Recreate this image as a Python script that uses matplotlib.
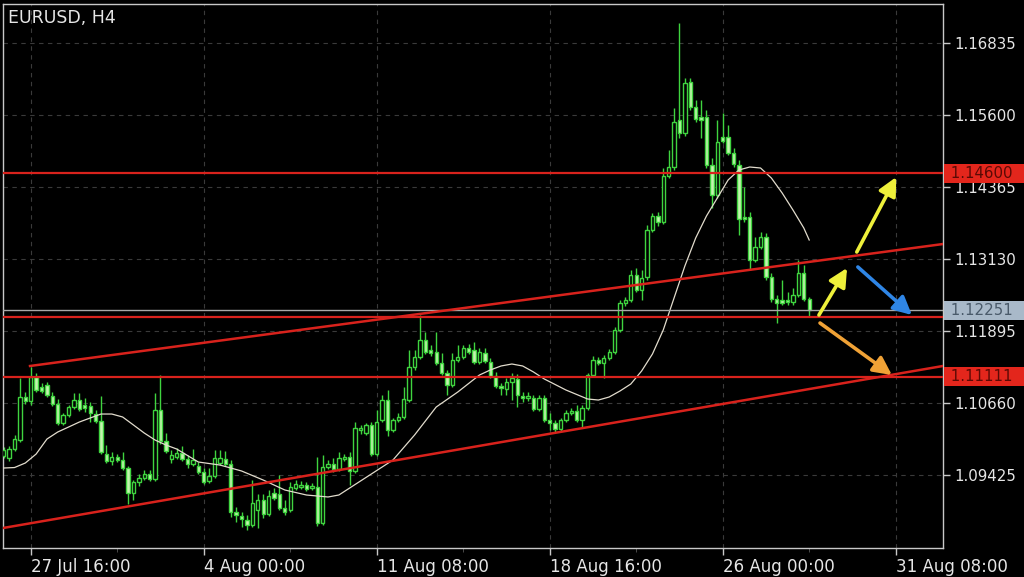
import matplotlib
matplotlib.use("Agg")
import matplotlib.pyplot as plt
import numpy as np

# EURUSD H4 candles (bar index 0..149)
opens = [
    1.09751, 1.09717, 1.09871, 1.10025, 1.10763, 1.10694, 1.11106, 1.10934, 1.10969, 1.10780,
    1.10643, 1.10317, 1.10454, 1.10591, 1.10711, 1.10626, 1.10608, 1.10471, 1.10351, 1.09785,
    1.09665, 1.09734, 1.09682, 1.09545, 1.09116, 1.09305, 1.09373, 1.09442, 1.09356, 1.10540,
    1.10008, 1.09699, 1.09734, 1.09802, 1.09699, 1.09614, 1.09579, 1.09476, 1.09322, 1.09408,
    1.09631, 1.09699, 1.09614, 1.08790, 1.08722, 1.08653, 1.08567, 1.08825, 1.08996, 1.08756,
    1.09116, 1.09099, 1.08859, 1.08825, 1.09202, 1.09219, 1.09253, 1.09202, 1.09219, 1.08602,
    1.09562, 1.09614, 1.09528, 1.09699, 1.09734, 1.09494, 1.10197, 1.10145, 1.10283, 1.09785,
    1.10368, 1.10711, 1.10197, 1.10368, 1.10420, 1.10711, 1.11277, 1.11449, 1.11741, 1.11569,
    1.11535, 1.11346, 1.11175, 1.10969, 1.11397, 1.11449, 1.11603, 1.11569, 1.11363, 1.11518,
    1.11363, 1.11123, 1.10951, 1.10900, 1.11020, 1.11072, 1.10780, 1.10746, 1.10746, 1.10557,
    1.10746, 1.10368, 1.10317, 1.10214, 1.10368, 1.10488, 1.10523, 1.10368, 1.10574, 1.11140,
    1.11397, 1.11346, 1.11432, 1.11535, 1.11912, 1.12375, 1.12427, 1.12856, 1.12598, 1.12821,
    1.13627, 1.13868, 1.13765, 1.14554, 1.14708, 1.15514, 1.15291, 1.16166, 1.15737, 1.15566,
    1.15566, 1.14742, 1.14228, 1.15223, 1.15223, 1.14948, 1.14742, 1.13850, 1.13850, 1.13113,
    1.13336, 1.13507, 1.12821, 1.12444, 1.12427, 1.12427, 1.12392, 1.12512, 1.12890, 1.12444,
]
highs = [
    1.09905, 1.09922, 1.10111, 1.11089, 1.10849, 1.11277, 1.11175, 1.11003, 1.11020, 1.10849,
    1.10729, 1.10488, 1.10626, 1.10831, 1.10831, 1.10746, 1.10677, 1.10540, 1.10780, 1.09940,
    1.09819, 1.09785, 1.09819, 1.09579, 1.09339, 1.09442, 1.09511, 1.09511, 1.10831, 1.11140,
    1.10145, 1.09854, 1.09888, 1.09922, 1.09768, 1.09871, 1.09648, 1.09545, 1.09545, 1.09854,
    1.09854, 1.09837, 1.09682, 1.08876, 1.08790, 1.08739, 1.09339, 1.09099, 1.09099, 1.09168,
    1.09202, 1.09425, 1.08996, 1.09305, 1.09339, 1.09322, 1.09305, 1.09288, 1.09734, 1.09768,
    1.09682, 1.09717, 1.09819, 1.09785, 1.09819, 1.10334, 1.10283, 1.10317, 1.10334, 1.10540,
    1.10797, 1.10883, 1.10403, 1.10488, 1.10934, 1.11569, 1.11569, 1.12169, 1.11878, 1.11655,
    1.11878, 1.11518, 1.11226, 1.11518, 1.11655, 1.11655, 1.11672, 1.11706, 1.11603, 1.11603,
    1.11432, 1.11192, 1.11003, 1.11089, 1.11175, 1.11157, 1.10849, 1.10849, 1.10797, 1.10797,
    1.10797, 1.10488, 1.10368, 1.10403, 1.10540, 1.10574, 1.10626, 1.10626, 1.11175, 1.11466,
    1.11449, 1.11483, 1.11586, 1.11964, 1.12427, 1.12478, 1.12941, 1.12976, 1.12941, 1.13713,
    1.13919, 1.13936, 1.14691, 1.15000, 1.15720, 1.17178, 1.16235, 1.16235, 1.15857, 1.15857,
    1.15686, 1.14862, 1.15514, 1.15634, 1.15428, 1.15034, 1.14828, 1.14365, 1.13936, 1.13507,
    1.13593, 1.13576, 1.12890, 1.12512, 1.12770, 1.12564, 1.12633, 1.13113, 1.13027, 1.12478,
]
lows = [
    1.09717, 1.09665, 1.09837, 1.09991, 1.10643, 1.10626, 1.10849, 1.10831, 1.10763, 1.10608,
    1.10283, 1.10283, 1.10420, 1.10557, 1.10523, 1.10506, 1.10334, 1.10317, 1.09785, 1.09631,
    1.09596, 1.09648, 1.09511, 1.08927, 1.08996, 1.09236, 1.09339, 1.09322, 1.09322, 1.09957,
    1.09802, 1.09631, 1.09699, 1.09665, 1.09545, 1.09579, 1.09442, 1.09270, 1.09288, 1.09373,
    1.09596, 1.09579, 1.08705, 1.08619, 1.08533, 1.08481, 1.08533, 1.08516, 1.08687, 1.08722,
    1.08996, 1.08825, 1.08739, 1.08790, 1.09168, 1.09185, 1.09150, 1.09168, 1.08550, 1.08567,
    1.09528, 1.09476, 1.09494, 1.09665, 1.09253, 1.09459, 1.10128, 1.10111, 1.09751, 1.09751,
    1.10334, 1.10094, 1.10163, 1.10334, 1.10385, 1.10677, 1.11226, 1.11415, 1.11500, 1.11466,
    1.11312, 1.11140, 1.10797, 1.10934, 1.11363, 1.11415, 1.11500, 1.11329, 1.11329, 1.11346,
    1.11089, 1.10917, 1.10797, 1.10797, 1.10711, 1.10591, 1.10677, 1.10694, 1.10523, 1.10523,
    1.10334, 1.10197, 1.10163, 1.10180, 1.10334, 1.10454, 1.10334, 1.10231, 1.10540, 1.11106,
    1.11312, 1.11089, 1.11397, 1.11500, 1.11878, 1.12324, 1.12392, 1.12564, 1.12427, 1.12770,
    1.13593, 1.13696, 1.13730, 1.14519, 1.14657, 1.15206, 1.15240, 1.15686, 1.15480, 1.15206,
    1.14691, 1.14005, 1.14176, 1.15120, 1.14914, 1.14708, 1.13542, 1.13765, 1.12941, 1.13079,
    1.13302, 1.12770, 1.12392, 1.12032, 1.12341, 1.12341, 1.12341, 1.12478, 1.12410, 1.12135,
]
closes = [
    1.09854, 1.09871, 1.10042, 1.10763, 1.10694, 1.11106, 1.10883, 1.10866, 1.10797, 1.10643,
    1.10317, 1.10454, 1.10591, 1.10711, 1.10557, 1.10574, 1.10488, 1.10351, 1.09819, 1.09665,
    1.09734, 1.09682, 1.09545, 1.09116, 1.09305, 1.09373, 1.09442, 1.09356, 1.10540, 1.10008,
    1.09837, 1.09768, 1.09802, 1.09699, 1.09614, 1.09682, 1.09476, 1.09305, 1.09408, 1.09717,
    1.09717, 1.09614, 1.08790, 1.08739, 1.08670, 1.08567, 1.08945, 1.08996, 1.08756, 1.09065,
    1.09030, 1.08859, 1.08790, 1.09219, 1.09270, 1.09253, 1.09185, 1.09236, 1.08602, 1.09562,
    1.09614, 1.09528, 1.09717, 1.09734, 1.09494, 1.10231, 1.10231, 1.10283, 1.09785, 1.10334,
    1.10711, 1.10197, 1.10368, 1.10420, 1.10729, 1.11277, 1.11449, 1.11741, 1.11535, 1.11518,
    1.11346, 1.11175, 1.10969, 1.11397, 1.11449, 1.11603, 1.11535, 1.11363, 1.11535, 1.11380,
    1.11123, 1.10951, 1.10917, 1.11020, 1.11089, 1.10797, 1.10746, 1.10780, 1.10557, 1.10746,
    1.10368, 1.10317, 1.10214, 1.10368, 1.10488, 1.10523, 1.10368, 1.10574, 1.11140, 1.11397,
    1.11346, 1.11432, 1.11535, 1.11912, 1.12375, 1.12427, 1.12856, 1.12598, 1.12804, 1.13627,
    1.13868, 1.13765, 1.14554, 1.14708, 1.15480, 1.15291, 1.16149, 1.15737, 1.15531, 1.15514,
    1.14742, 1.14228, 1.15137, 1.15154, 1.14948, 1.14759, 1.13816, 1.13816, 1.13113, 1.13336,
    1.13507, 1.12821, 1.12444, 1.12375, 1.12375, 1.12392, 1.12512, 1.12890, 1.12444, 1.12255,
]

# moving average line, read at selected bars
ma_bars = [0, 2, 4, 6, 8, 10, 12, 14, 16, 18, 20, 22, 24, 26, 28, 30, 32, 36, 40, 44, 48,
           52, 56, 58, 60, 62, 64, 68, 72, 76, 80, 84, 88, 90, 92, 94, 96, 98, 100, 104,
           108, 110, 112, 114, 116, 118, 120, 122, 124, 126, 128, 130, 132, 134, 136, 138,
           140, 142, 144, 146, 148, 149]
ma_vals = [1.09545, 1.09553, 1.09631, 1.09785, 1.10042, 1.10163, 1.10248, 1.10334, 1.10403,
           1.10471, 1.10471, 1.10420, 1.10283, 1.10145, 1.10025, 1.09940, 1.09871, 1.09648,
           1.09596, 1.09494, 1.09339, 1.09168, 1.09082, 1.09065, 1.09048, 1.09082, 1.09202,
           1.09442, 1.09682, 1.10111, 1.10591, 1.10849, 1.11140, 1.11226, 1.11295, 1.11329,
           1.11295, 1.11192, 1.11072, 1.10883, 1.10729, 1.10711, 1.10763, 1.10866, 1.10986,
           1.11209, 1.11500, 1.11912, 1.12461, 1.13010, 1.13490, 1.13868, 1.14176, 1.14485,
           1.14657, 1.14708, 1.14691, 1.14519, 1.14262, 1.13970, 1.13662, 1.13456]

time_ticks = [5, 37, 69, 101, 133, 165]
time_labels = ["27 Jul 16:00", "4 Aug 00:00", "11 Aug 08:00", "18 Aug 16:00",
               "26 Aug 00:00", "31 Aug 08:00"]
price_ticks = [1.16835, 1.15600, 1.14365, 1.13130, 1.11895, 1.10660, 1.09425]

red_levels = [1.14600, 1.12140, 1.11111]
bid_price = 1.12251
boxed_levels = [1.14600, 1.12251, 1.11111]
boxed_colors = ["#e3261c", "#a9b9c9", "#e3261c"]
boxed_text_colors = ["#5a0a05", "#4a5a6a", "#5a0a05"]

upper_trend_x = [4.87, 173.75]
upper_trend_y = [1.11295, 1.13387]
lower_trend_x = [-0.13, 173.75]
lower_trend_y = [1.08516, 1.11295]

arrow_tails = [(150.8, 1.12169), (157.8, 1.13250), (158.0, 1.12993), (151.0, 1.12032)]
arrow_tips = [(156.0, 1.12976), (165.1, 1.14536), (168.0, 1.12169), (164.3, 1.11140)]
arrow_colors = ["#eef03a", "#eef03a", "#2f86e6", "#f0a236"]

fg = "#e6e6e6"
frame = "#c8c8c8"
green = "#3fd43f"
bear_fill = "#c4f5ae"

fig = plt.figure(figsize=(10.24, 5.77), dpi=100, facecolor="black")
ax = fig.add_axes([3 / 1024, 29 / 577, 940 / 1024, 544 / 577])
ax.set_facecolor("black")
ax.set_xlim(-0.13, 173.75)
ax.set_ylim(1.08173, 1.17504)

# grid
for t in time_ticks:
    ax.axvline(t, color="#3a3a3a", lw=0.8, ls=(0, (4, 4)), zorder=0)
for p in price_ticks:
    ax.axhline(p, color="#3a3a3a", lw=0.8, ls=(0, (4, 4)), zorder=0)

o = np.array(opens)
h = np.array(highs)
l = np.array(lows)
c = np.array(closes)
x = np.arange(len(c))
bull = c >= o

ax.vlines(x, l, h, color=green, lw=1.0, zorder=2)
ax.bar(x[bull], c[bull] - o[bull], bottom=o[bull], width=0.62,
       facecolor="black", edgecolor=green, lw=1.0, zorder=3)
ax.bar(x[~bull], o[~bull] - c[~bull], bottom=c[~bull], width=0.62,
       facecolor=bear_fill, edgecolor=green, lw=1.0, zorder=3)

ax.plot(ma_bars, ma_vals, color="#e2dccd", lw=0.9, zorder=4)

# levels and trend lines
for lv in red_levels:
    ax.axhline(lv, color="#d8221c", lw=1.6, zorder=5)
ax.axhline(bid_price, color="#a8a8a8", lw=1.0, zorder=5)
ax.plot(upper_trend_x, upper_trend_y, color="#d8221c", lw=1.8, zorder=5)
ax.plot(lower_trend_x, lower_trend_y, color="#d8221c", lw=1.8, zorder=5)

for tail, tip, col in zip(arrow_tails, arrow_tips, arrow_colors):
    ax.annotate("", xy=tip, xytext=tail, annotation_clip=False, zorder=6,
                arrowprops=dict(arrowstyle="-|>,head_length=1.1,head_width=0.55",
                                color=col, lw=2.6, shrinkA=0, shrinkB=0))

# axes styling
for s in ax.spines.values():
    s.set_color(frame)
    s.set_linewidth(1.0)

ax.yaxis.tick_right()
ax.set_yticks(price_ticks)
ax.set_yticklabels([f"{p:.5f}" for p in price_ticks])
ax.set_xticks(time_ticks)
ax.set_xticklabels(time_labels, ha="left")
ax.set_xticks([21, 53, 85, 117, 149], minor=True)
ax.tick_params(axis="both", colors=frame, labelcolor=fg,
               length=5, width=1, direction="out")
ax.tick_params(axis="y", labelsize=10.8, pad=3)
ax.tick_params(axis="x", labelsize=12, pad=2)
ax.tick_params(axis="x", which="minor", length=3, color="#555555")

ytrans = ax.get_yaxis_transform()
for lv, bc, tc in zip(boxed_levels, boxed_colors, boxed_text_colors):
    ax.text(1.0035, lv, f" {lv:.5f}  ", transform=ytrans, ha="left", va="center",
            fontsize=10.8, color=tc, clip_on=False, zorder=7,
            bbox=dict(boxstyle="square,pad=0.12", fc=bc, ec="none"))

fig.text(8 / 1024, 1 - 18 / 577, "EURUSD, H4", color=fg, fontsize=12.5,
         ha="left", va="center")

fig.savefig("out.png", dpi=100, facecolor="black")
